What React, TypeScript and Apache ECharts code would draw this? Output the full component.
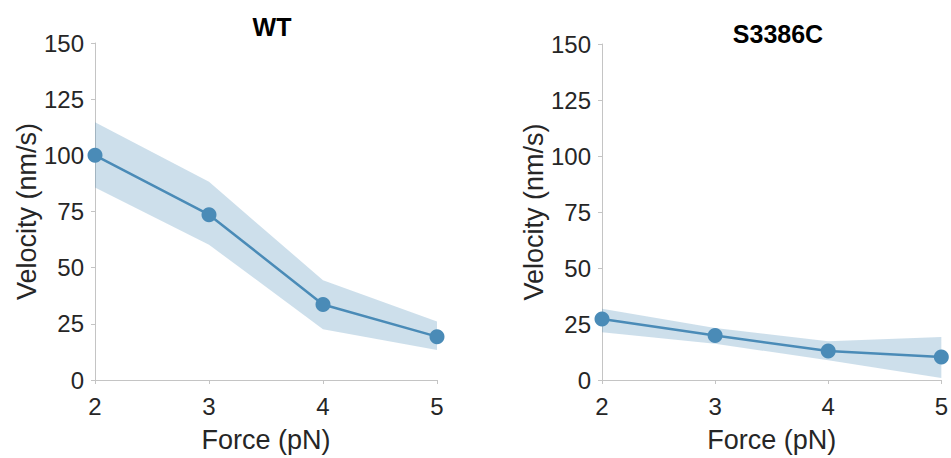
import React, { useEffect, useRef } from "react";
import * as echarts from "echarts";

const forces = [2, 3, 4, 5];
const wtMean = [100, 73.6, 33.6, 19.3];
const wtLow = [85.7, 60.2, 22.6, 13.4];
const wtHigh = [114.7, 88.2, 44.4, 26.0];
const mutMean = [27.2, 19.9, 12.9, 10.3];
const mutLow = [21.3, 16.2, 8.8, 0.9];
const mutHigh = [31.8, 23.2, 17.3, 19.2];
const yTicks = [0, 25, 50, 75, 100, 125, 150];
const titles = ["WT", "S3386C"];

const LINE = "#4a8bb7";
const BAND = "rgba(74,139,183,0.28)";
const AXIS = "#c4c4c4";
const TEXT = "#262626";
const FONT = "Liberation Sans, Arial, sans-serif";

export default function App() {
  const ref = useRef<HTMLDivElement>(null);
  useEffect(() => {
    const chart = echarts.init(ref.current!, null, { renderer: "svg" });
    const grids = [
      { left: 95, top: 43, width: 342, height: 339 },
      { left: 602, top: 44, width: 343, height: 340 },
    ];
    const mkX = (i: number) => ({
      type: "value",
      gridIndex: i,
      min: 2,
      max: 5,
      interval: 1,
      name: "Force (pN)",
      nameLocation: "middle",
      nameGap: 46,
      nameTextStyle: { fontSize: 27, color: TEXT, fontFamily: FONT },
      axisLine: { show: true, lineStyle: { color: AXIS, width: 1 } },
      axisTick: { show: true, length: 4, inside: false, lineStyle: { color: AXIS } },
      axisLabel: { fontSize: 24, color: TEXT, fontFamily: FONT, margin: 14 },
      splitLine: { show: false },
    });
    const mkY = (i: number) => ({
      type: "value",
      gridIndex: i,
      min: 0,
      max: 150,
      interval: 25,
      name: "Velocity (nm/s)",
      nameLocation: "middle",
      nameGap: 54,
      nameTextStyle: { fontSize: 27, color: TEXT, fontFamily: FONT },
      axisLine: { show: true, lineStyle: { color: AXIS, width: 1 } },
      axisTick: { show: true, length: 4, inside: false, lineStyle: { color: AXIS } },
      axisLabel: {
        fontSize: 24,
        color: TEXT,
        fontFamily: FONT,
        margin: 11,
        formatter: (v: number) => (yTicks.includes(v) ? String(v) : ""),
      },
      splitLine: { show: false },
    });
    const band = (i: number, low: number[], high: number[]) => ({
      type: "custom",
      xAxisIndex: i,
      yAxisIndex: i,
      silent: true,
      z: 1,
      data: forces.map((f, k) => [f, low[k], high[k]]),
      renderItem: (params: any, api: any) => {
        if (params.dataIndex !== 0) return null;
        const top = forces.map((f, k) => api.coord([f, high[k]]));
        const bot = forces.map((f, k) => api.coord([f, low[k]])).reverse();
        return {
          type: "polygon",
          shape: { points: top.concat(bot) },
          style: { fill: BAND },
        };
      },
    });
    const line = (i: number, mean: number[]) => ({
      type: "line",
      xAxisIndex: i,
      yAxisIndex: i,
      z: 3,
      data: forces.map((f, k) => [f, mean[k]]),
      symbol: "circle",
      symbolSize: 15,
      lineStyle: { color: LINE, width: 2.5 },
      itemStyle: { color: LINE },
    });
    chart.setOption({
      animation: false,
      backgroundColor: "#ffffff",
      title: [
        {
          text: titles[0],
          left: 267,
          top: 9,
          textAlign: "center",
          textStyle: { fontSize: 25, fontWeight: "bold", color: "#000", fontFamily: FONT },
        },
        {
          text: titles[1],
          left: 773,
          top: 16,
          textAlign: "center",
          textStyle: { fontSize: 25, fontWeight: "bold", color: "#000", fontFamily: FONT },
        },
      ],
      grid: grids,
      xAxis: [mkX(0), mkX(1)],
      yAxis: [mkY(0), mkY(1)],
      series: [
        band(0, wtLow, wtHigh),
        line(0, wtMean),
        band(1, mutLow, mutHigh),
        line(1, mutMean),
      ],
    });
    return () => chart.dispose();
  }, []);
  return (
    <div
      ref={ref}
      style={{ position: "fixed", left: 0, top: 0, width: 951, height: 458 }}
    />
  );
}
